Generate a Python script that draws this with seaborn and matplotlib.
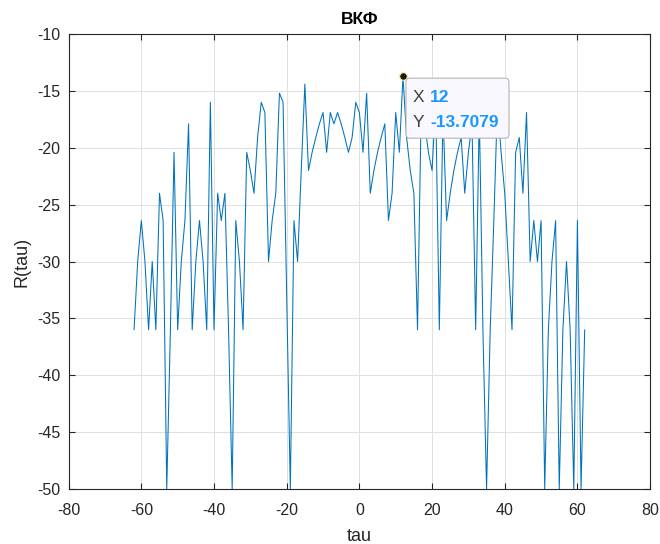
import seaborn as sns
import matplotlib.pyplot as plt
import matplotlib.transforms as mtransforms
from matplotlib.patches import FancyBboxPatch
import numpy as np

# lag values
tau = list(range(-62, 63))

# cross-correlation in dB (tau = -62 ... 62)
R = [
    -36.0, -30.0, -26.4, -30.0, -36.0, -30.0, -36.0, -24.0, -26.4, -50.0,   # -62 .. -53
    -36.0, -20.4, -36.0, -30.0, -26.4, -17.9, -36.0, -30.0, -26.4, -30.0,   # -52 .. -43
    -36.0, -16.0, -36.0, -24.0, -26.4, -24.0, -36.0, -50.0, -26.4, -30.0,   # -42 .. -33
    -36.0, -20.4, -22.0, -24.0, -19.1, -16.0, -16.9, -30.0, -26.4, -24.0,   # -32 .. -23
    -15.2, -16.0, -33.0, -50.0, -26.4, -30.0, -22.0, -14.4, -22.0, -20.4,   # -22 .. -13
    -19.1, -17.9, -16.9, -20.4, -16.9, -17.9, -16.9, -17.9, -19.1, -20.4,   # -12 .. -3
    -19.1, -16.0, -16.9, -20.4, -15.2, -24.0, -22.0, -20.4, -19.1, -17.9,   # -2 .. 7
    -26.4, -24.0, -16.9, -20.4, -13.7079, -19.1, -22.0, -24.0, -36.0, -16.9,  # 8 .. 17
    -17.9, -20.4, -22.0, -16.0, -36.0, -16.9, -26.4, -24.0, -22.0, -20.4,   # 18 .. 27
    -19.1, -24.0, -20.4, -17.9, -36.0, -16.9, -36.0, -50.0, -36.0, -26.4,   # 28 .. 37
    -16.0, -20.4, -24.0, -30.0, -36.0, -20.4, -19.1, -24.0, -16.9, -30.0,   # 38 .. 47
    -26.4, -30.0, -26.4, -50.0, -36.0, -30.0, -26.4, -50.0, -36.0, -30.0,   # 48 .. 57
    -36.0, -50.0, -26.4, -50.0, -36.0,                                      # 58 .. 62
]

# data tip
tip_x = 12
tip_y = -13.7079

x_ticks = list(range(-80, 81, 20))
y_ticks = list(range(-50, -9, 5))

sns.set_theme(style="ticks")
plt.rcParams['font.family'] = ['Liberation Sans', 'DejaVu Sans']
plt.rcParams['axes.unicode_minus'] = False

fig = plt.figure(figsize=(6.6, 5.44), dpi=100)
ax = fig.add_axes([0.104, 0.101, 0.881, 0.8365])

sns.lineplot(x=tau, y=R, ax=ax, color='#0072BD', linewidth=0.75, estimator=None)

ax.set_xlim(-80, 80)
ax.set_ylim(-50, -10)
ax.set_xticks(x_ticks)
ax.set_yticks(y_ticks)
ax.grid(True, color='#e0e0e0', linewidth=0.7)
ax.set_axisbelow(True)

for s in ax.spines.values():
    s.set_visible(True)
    s.set_color('#262626')
    s.set_linewidth(0.8)
ax.tick_params(direction='in', length=4, width=0.8, color='#262626',
               labelcolor='#262626', labelsize=11.5, top=True, right=True,
               labeltop=False, labelright=False)
ax.tick_params(axis='x', pad=10)
ax.tick_params(axis='y', pad=6)

ax.set_title('ВКФ', fontsize=12.5, fontweight='bold', color='black', pad=7)
ax.set_xlabel('tau', fontsize=13, color='#262626', labelpad=7)
ax.set_ylabel('R(tau)', fontsize=13, color='#262626', labelpad=5)

# data tip marker and box
ax.plot([tip_x], [tip_y], 'o', color='#1a1a1a', markersize=5.5,
        markeredgecolor='#f5f08a', markeredgewidth=0.8, clip_on=False, zorder=6)

tr = mtransforms.IdentityTransform() + mtransforms.ScaledTranslation(tip_x, tip_y, ax.transData)
box = FancyBboxPatch((3, -62), 103, 60, boxstyle='round,pad=0,rounding_size=4',
                     transform=tr, facecolor='#f8f8fe', edgecolor='#b4b4b4',
                     linewidth=0.8, zorder=7)
ax.add_patch(box)

txt = dict(xy=(tip_x, tip_y), xycoords='data', textcoords='offset pixels',
           va='center', ha='left', fontsize=12.5, zorder=8)
ax.annotate('X', xytext=(10, -21), color='#404040', **txt)
ax.annotate('12', xytext=(27, -21), color='#1a98ff', fontweight='bold', **txt)
ax.annotate('Y', xytext=(10, -46), color='#404040', **txt)
ax.annotate('-13.7079', xytext=(27, -46), color='#1a98ff', fontweight='bold', **txt)

plt.savefig('out.png', dpi=100)
